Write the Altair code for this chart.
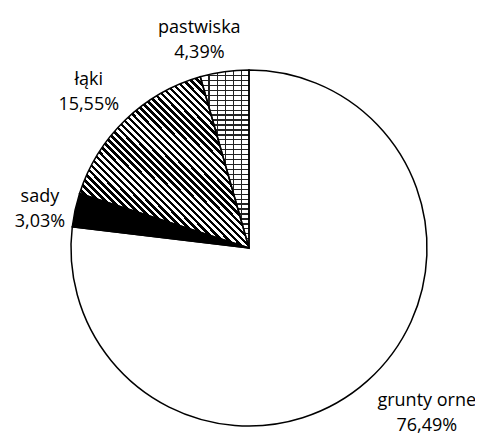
import altair as alt
import pandas as pd

categories = ["grunty orne", "sady", "łąki", "pastwiska"]
values = [76.49, 3.03, 15.55, 4.39]
pct_labels = ["76,49%", "3,03%", "15,55%", "4,39%"]
order = [0, 1, 2, 3]

df = pd.DataFrame({"cat": categories, "val": values, "pct": pct_labels, "ord": order})


def stripes(n, dark_frac, x1, y1, x2, y2, dark, light):
    stops = []
    for i in range(n):
        a = i / n
        b = (i + dark_frac) / n
        c = (i + 1) / n
        stops += [
            {"offset": a, "color": dark},
            {"offset": b, "color": dark},
            {"offset": b, "color": light},
            {"offset": c, "color": light},
        ]
    return {"gradient": "linear", "x1": x1, "y1": y1, "x2": x2, "y2": y2, "stops": stops}


hatch = stripes(48, 0.5, 0, 1, 1, 0, "black", "white")
brick_h = stripes(36, 0.25, 0, 0, 0, 1, "#222222", "white")
brick_v = stripes(6, 0.14, 0, 0, 1, 0, "#222222", "rgba(255,255,255,0)")

R = 178
CX, CY = 241, 240
GAP = 12
LINE_H = 25
HALF_H = 21

base = alt.Chart(df).encode(
    theta=alt.Theta("val:Q", stack=True),
    order=alt.Order("ord:Q"),
    x=alt.value(CX),
    y=alt.value(CY),
)

fill_layer = base.mark_arc(radius=R).encode(
    fill=alt.condition("datum.cat == 'sady'", alt.value("black"), alt.value("white"))
)
hatch_layer = base.mark_arc(radius=R).encode(
    fill=alt.condition("datum.cat == 'łąki'", alt.value(hatch), alt.value("rgba(255,255,255,0)"))
)
brick_layer1 = base.mark_arc(radius=R).encode(
    fill=alt.condition("datum.cat == 'pastwiska'", alt.value(brick_h), alt.value("rgba(255,255,255,0)"))
)
brick_layer2 = base.mark_arc(radius=R).encode(
    fill=alt.condition("datum.cat == 'pastwiska'", alt.value(brick_v), alt.value("rgba(255,255,255,0)"))
)
outline = base.mark_arc(radius=R, fill="transparent", stroke="black", strokeWidth=1.5)

text_layer = (
    alt.Chart(df)
    .transform_joinaggregate(total="sum(val)")
    .transform_window(cum="sum(val)", sort=[alt.SortField("ord")])
    .transform_calculate(
        mid="(datum.cum - datum.val / 2) / datum.total * 2 * PI",
        label="datum.cat + '\\n' + datum.pct",
        hw="max(length(datum.cat), length(datum.pct)) * 4.7",
    )
    .transform_calculate(
        lx=f"{CX} + {R + GAP} * sin(datum.mid) + datum.hw * clamp(4 * sin(datum.mid), -1, 1)",
        ly=(
            f"{CY} - {R + GAP} * cos(datum.mid) - {HALF_H} * (cos(datum.mid) < 0 ? -1 : 1)"
            " * clamp((abs(cos(datum.mid)) - 0.25) * 3, 0, 1)"
        ),
    )
    .mark_text(
        font="Open Sans",
        fontSize=18,
        lineBreak="\n",
        lineHeight=LINE_H,
        align="center",
        baseline="middle",
        dy=-LINE_H / 2 + 2,
        color="black",
    )
    .encode(
        x=alt.X("lx:Q", scale=None),
        y=alt.Y("ly:Q", scale=None),
        text="label:N",
    )
)

chart = (
    alt.layer(fill_layer, hatch_layer, brick_layer1, brick_layer2, outline, text_layer)
    .properties(width=467, height=428, autosize=alt.AutoSizeParams(type="none"), padding=0)
    .configure_view(stroke=None)
)

chart.save("out.html", embed_options={"renderer": "svg", "actions": False})
